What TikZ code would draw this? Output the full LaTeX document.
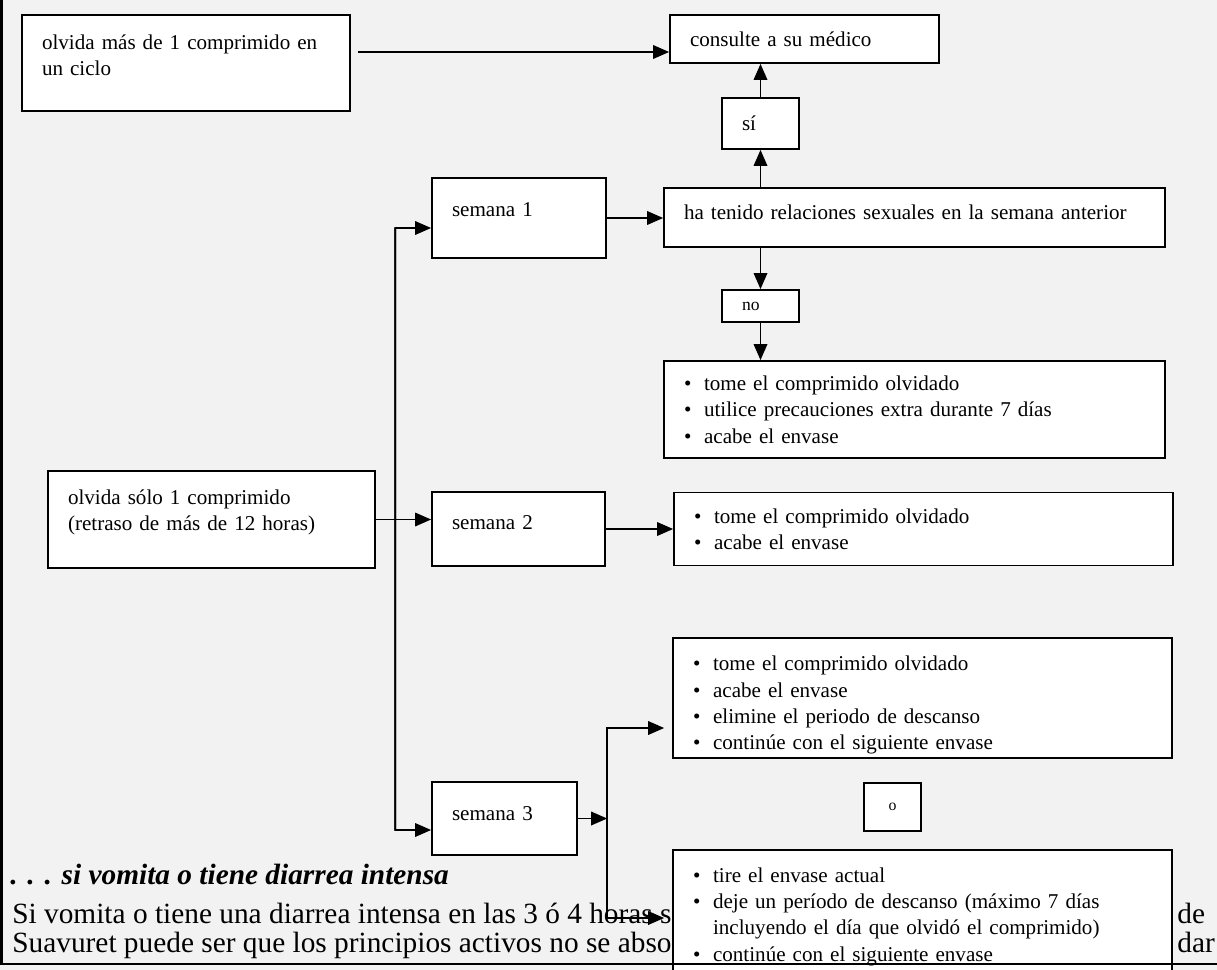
\documentclass[tikz,border=0pt]{standalone}
\usepackage{fontspec}
\setmainfont{Liberation Serif}
\usetikzlibrary{arrows.meta}
\definecolor{pagegray}{RGB}{242,242,242}
\newcommand{\bul}{\makebox[0.4cm][l]{\textbullet}}
\newcommand{\sangria}{\hspace*{0.4cm}}
\tikzset{
	box/.style={draw, fill=white, line width=1pt, inner xsep=0.4cm, inner ysep=0pt, align=left, font=\fontsize{12}{14.5}\selectfont},
	list/.style={box, font=\fontsize{12}{15}\selectfont},
	lift/.style={execute at end node={\\[#1]\mbox{}}},
	drop/.style={execute at begin node={\rule{0pt}{#1}}},
	arr/.style={line width=1pt, -{Triangle[length=0.32cm,width=0.27cm]}},
	para/.style={anchor=base west, inner sep=0pt, font=\fontsize{16.7}{16.8}\selectfont}
}

\begin{document}
\begin{tikzpicture}[x=0.02cm, y=-0.02cm]
			%%%%% START %%%%%
			\useasboundingbox (0,0) rectangle (1217,970);
			\fill[pagegray] (0,0) rectangle (1217,970);
			\clip (0,0) rectangle (1217,970);
			
			% texto de la hoja
			\node[para, font=\fontsize{16.7}{16.8}\selectfont\bfseries\itshape] (tit) at (10,884) {. . . si vomita o tiene diarrea intensa};
			\node[para] (l1) at (12,923) {Si vomita o tiene una diarrea intensa en las 3 ó 4 horas si};
			\node[para] (l1r) at (1177,923) {de};
			\node[para] (l2) at (12,952) {Suavuret puede ser que los principios activos no se absor};
			\node[para] (l2r) at (1177,952) {dar};
			
			% cajas
			\node[box, minimum width=6.56cm, minimum height=1.92cm, text width=5.76cm, lift=-5.4pt] (A) at (186,63) {olvida más de 1 comprimido en\\un ciclo};
			\node[box, minimum width=5.38cm, minimum height=0.96cm, text width=4.58cm] (B) at (804.5,39) {consulte a su médico};
			\node[box, minimum width=1.54cm, minimum height=1.02cm, text width=0.74cm] (si) at (760.5,123.5) {sí};
			\node[box, minimum width=10.02cm, minimum height=1.18cm, text width=9.22cm, lift=-8.3pt] (C) at (914.5,217.5) {ha tenido relaciones sexuales en la semana anterior};
			\node[box, minimum width=1.54cm, minimum height=0.64cm, text width=0.74cm, font=\fontsize{10}{12}\selectfont] (no) at (760.5,306) {no};
			\node[list, minimum width=10.02cm, minimum height=1.94cm, text width=9.22cm] (E1) at (914.5,409.5) {\bul tome el comprimido olvidado\\\bul utilice precauciones extra durante 7 días\\\bul acabe el envase};
			
			\node[box, minimum width=3.48cm, minimum height=1.6cm, text width=2.68cm, lift=-5.4pt] (S1) at (519,218) {semana 1};
			\node[box, minimum width=6.54cm, minimum height=1.94cm, text width=5.74cm, lift=-3.9pt] (D) at (211.5,519.5) {olvida sólo 1 comprimido\\(retraso de más de 12 horas)};
			\node[box, minimum width=3.46cm, minimum height=1.48cm, text width=2.66cm, lift=-6.6pt] (S2) at (518.5,529) {semana 2};
			\node[list, minimum width=9.98cm, minimum height=1.46cm, text width=9.18cm] (E2) at (923.5,529) {\bul tome el comprimido olvidado\\\bul acabe el envase};
			
			\node[box, minimum width=2.9cm, minimum height=1.46cm, text width=2.1cm, lift=-8.3pt] (S3) at (504.5,818.5) {semana 3};
			\node[list, minimum width=9.98cm, minimum height=2.4cm, text width=9.18cm, drop=16.5pt] (E3) at (922.5,698) {\bul tome el comprimido olvidado\\\bul acabe el envase\\\bul elimine el periodo de descanso\\\bul continúe con el siguiente envase};
			\node[box, minimum width=1.14cm, minimum height=0.96cm, inner xsep=0pt, align=center, font=\fontsize{9}{11}\selectfont] (o) at (892.5,807) {o};
			\node[list, minimum width=9.98cm, minimum height=2.66cm, text width=9.18cm] (E4) at (922.5,916.5) {\bul tire el envase actual\\\bul deje un período de descanso (máximo 7 días\\\sangria incluyendo el día que olvidó el comprimido)\\\bul continúe con el siguiente envase};
			
			% flechas de arriba
			\coordinate (a1) at ([shift={(7,-11)}]A.east);
			\draw[arr] (a1) -- (a1 -| B.west);
			\draw[arr] (si.north) -- (si.north |- B.south);
			\draw[arr] (si.south |- C.north) -- (si.south);
			\draw[arr] (S1.east) -- (S1.east -| C.west);
			\draw[arr] (no.north |- C.south) -- (no.north);
			\draw[arr] (no.south) -- (no.south |- E1.north);
			
			% tronco de las semanas
			\coordinate (t1) at ([shift={(-36,10)}]S1.west);
			\coordinate (t3) at ([shift={(-36,11.5)}]S3.west);
			\draw[arr] (t3) -- (t1) -- (t1 -| S1.west);
			\draw[arr] (t1) -- (t3) -- (t3 -| S3.west);
			\draw[arr] (D.east) -- (D.east -| S2.west);
			\draw[arr] (S2.east) -- (S2.east -| E2.west);
			
			% semana 3
			\coordinate (j1) at ([shift={(-65,30)}]E3.west);
			\coordinate (j2) at ([shift={(-65,1.5)}]E4.west);
			\draw[arr] (S3.east) -- (S3.east -| j1);
			\draw[arr, shorten >=0.16cm] (j2) -- (j1) -- (j1 -| E3.west);
			\draw[arr, shorten >=0.16cm] (j1) -- (j2) -- (j2 -| E4.west);
			
			% bordes de la hoja
			\draw[line width=1.2pt] (1.5,0) -- (1.5,964) -- (1217,964);
			%%%%% END %%%%%
\end{tikzpicture}
\end{document}
